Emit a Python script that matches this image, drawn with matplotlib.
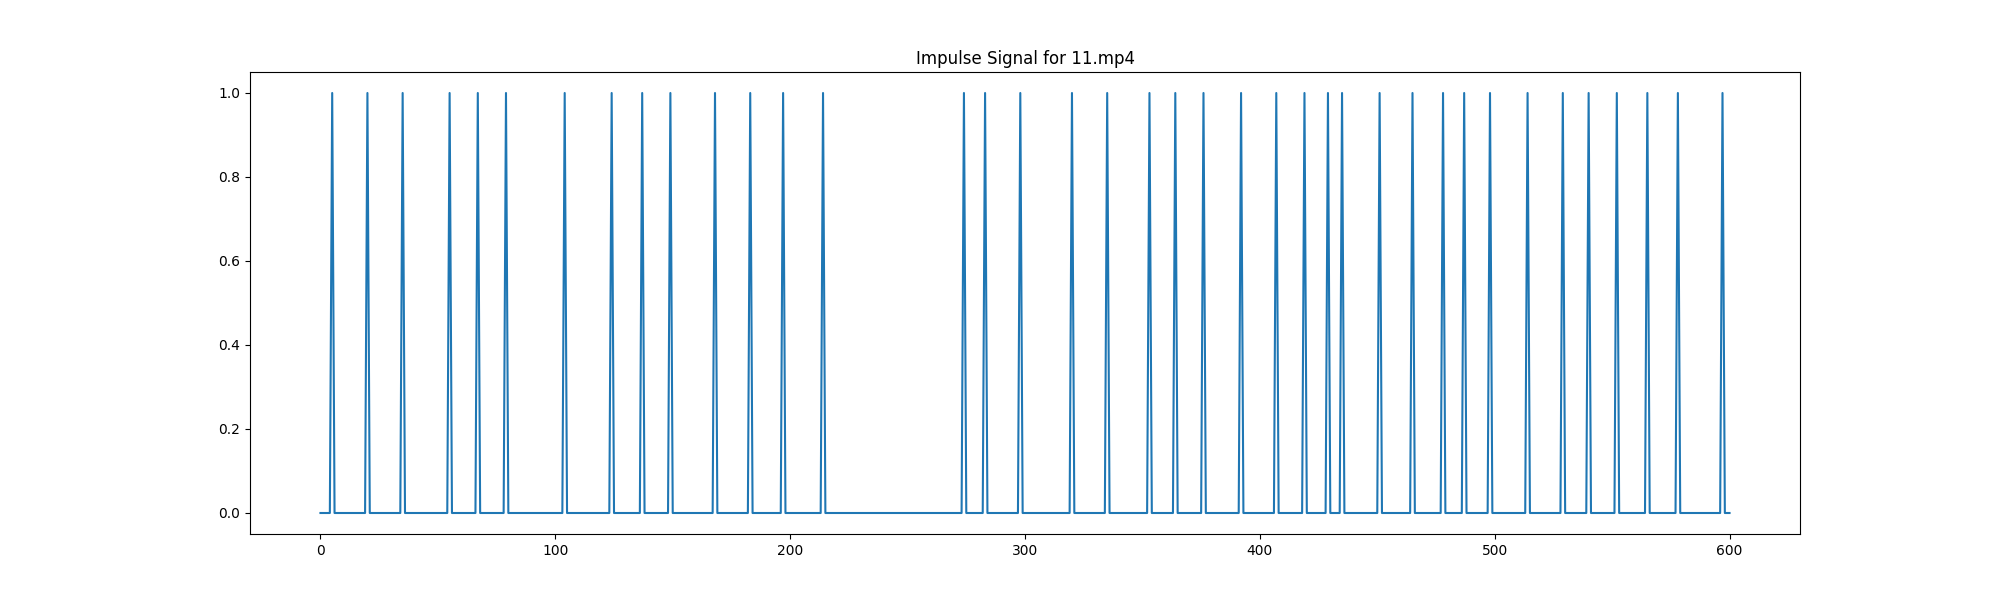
"""Impulse signal for 11.mp4 -- one spike per detected event frame."""
import numpy as np
import matplotlib
matplotlib.use("Agg")
import matplotlib.pyplot as plt

n_frames = 601
event_frames = [5, 20, 35, 55, 67, 79, 104, 124, 137, 149, 168, 183, 197, 214,
                274, 283, 298, 320, 335, 353, 364, 376, 392, 407, 419, 429,
                435, 451, 465, 478, 487, 498, 514, 529, 540, 552, 565, 578, 597]
title = "Impulse Signal for 11.mp4"

signal = np.zeros(n_frames)
signal[event_frames] = 1.0

fig, ax = plt.subplots(figsize=(20, 6), dpi=100)
ax.plot(np.arange(n_frames), signal)
ax.set_title(title)
fig.savefig("out.png", dpi=100)
plt.close(fig)
